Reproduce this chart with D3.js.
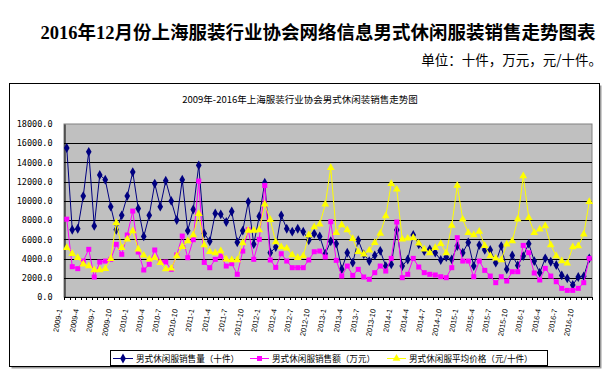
<!DOCTYPE html>
<html lang="zh">
	<head>
		<meta charset="utf-8">
		<title>男式休闲服装销售走势图</title>
		<script src="https://d3js.org/d3.v7.min.js"></script>
		<style type="text/css">
			body { margin: 0; background: #fff; }
		</style>
	</head>
	<body>
		<script type="text/javascript">

			var years = [2009, 2010, 2011, 2012, 2013, 2014, 2015, 2016];
			var months = [];
			years.forEach(function(y){
				for (var m = 1; m <= 12; m++) months.push(y + "-" + m);
			});

			// 男式休闲服销售量（十件）
			var qty = [15500, 7000, 7100, 10500, 15100, 7400, 12700, 12200, 9400, 7000, 8500, 10500,
				13000, 9200, 6300, 8500, 11800, 9400, 12100, 10000, 8000, 12200, 6900, 9100,
				13700, 6600, 5800, 8700, 8600, 7800, 8900, 5700, 6900, 9900, 5500, 8400,
				11900, 4600, 5200, 8500, 7100, 6800, 7100, 6800, 5900, 6600, 6300, 4500,
				5800, 5550, 2900, 4600, 3570, 5900, 4440, 3740, 4330, 4800, 3220, 3400,
				6970, 3220, 3900, 6450, 5480, 4780, 4960, 4610, 3850, 4160, 3920, 5300,
				4610, 5680, 3220, 5400, 4900, 4900, 3570, 5300, 2880, 4330, 3290, 4260,
				5550, 3740, 2530, 4020, 3670, 3330, 2250, 1940, 1250, 2080, 2150, 4020];

			// 男式休闲服销售额（万元）
			var amount = [8100, 3150, 2950, 3740, 4960, 2080, 3640, 3740, 3920, 5480, 4440, 6450,
				8940, 4680, 2810, 3400, 4890, 3640, 3650, 2880, 4370, 6340, 4090, 5960,
				12060, 3600, 3050, 3920, 4260, 3220, 3470, 2360, 4780, 7000, 3920, 6000,
				11600, 3850, 3080, 4500, 3740, 3050, 3050, 3050, 3850, 4710, 4780, 4160,
				7830, 3810, 2180, 3220, 2250, 2880, 2080, 1840, 2530, 3220, 2700, 4020,
				7800, 2010, 2360, 4020, 3120, 2530, 2360, 2290, 2110, 2010, 3050, 6170,
				3740, 3740, 2110, 3740, 2770, 2180, 1490, 2110, 1660, 2630, 2630, 5370,
				4610, 2500, 1770, 2980, 2180, 1590, 900, 690, 690, 900, 1490, 4020];

			// 男式休闲服平均价格（元/十件）
			var price = [5130, 4500, 4090, 3400, 3220, 2810, 2810, 2950, 3990, 7730, 5130, 6000,
				6860, 4960, 4330, 3920, 4090, 3570, 2900, 2980, 4260, 5230, 5820, 6450,
				8660, 5400, 4710, 4570, 4780, 3920, 3850, 3850, 5610, 6930, 6930, 6970,
				9640, 8040, 5730, 5200, 5060, 4370, 4090, 4260, 6450, 7280, 7560, 9640,
				13450, 6690, 7490, 6970, 6070, 4710, 4440, 4850, 5650, 6600, 8420, 11780,
				11200, 6000, 6100, 6170, 5580, 4960, 4570, 5130, 5550, 4570, 7450, 11610,
				8080, 6690, 6450, 6820, 5330, 4260, 4020, 3850, 5480, 5820, 8080, 12580,
				8250, 6690, 7040, 7380, 5410, 4260, 3740, 3500, 5200, 5300, 6520, 9910];

			var seriesNames = ["男式休闲服销售量（十件）", "男式休闲服销售额（万元）", "男式休闲服平均价格（元/十件）"];
			var yTicks = [0, 2000, 4000, 6000, 8000, 10000, 12000, 14000, 16000, 18000];

			var W = 611, H = 377;
			var plot = {left: 64, right: 592, top: 124, bottom: 297};

			var svg = d3.select("body")
				.append("svg")
				.attr("width", W)
				.attr("height", H);

			svg.append("rect").attr("width", W).attr("height", H).attr("fill", "#fff");

			// headings
			svg.append("text")
				.attr("x", 318).attr("y", 39)
				.attr("text-anchor", "middle")
				.attr("font-family", "'Liberation Serif', 'Noto Sans CJK SC', serif")
				.attr("font-weight", "bold")
				.attr("font-size", "18.5px")
				.attr("fill", "#000")
				.text("2016年12月份上海服装行业协会网络信息男式休闲服装销售走势图表");

			svg.append("text")
				.attr("x", 602).attr("y", 65)
				.attr("text-anchor", "end")
				.attr("font-family", "'Noto Sans CJK SC', sans-serif")
				.attr("font-size", "13.5px")
				.attr("fill", "#000")
				.text("单位：十件，万元，元/十件。");

			// chart frame (with a faint shadow)
			svg.append("rect")
				.attr("x", 11.5).attr("y", 85.5).attr("width", 590).attr("height", 283)
				.attr("fill", "#999");
			svg.append("rect")
				.attr("x", 9.5).attr("y", 83.5).attr("width", 590).attr("height", 283)
				.attr("fill", "#fff").attr("stroke", "#000");

			svg.append("text")
				.attr("x", 300).attr("y", 103)
				.attr("text-anchor", "middle")
				.attr("font-family", "'Noto Sans CJK SC', sans-serif")
				.attr("font-size", "9.5px")
				.attr("fill", "#000")
				.text("2009年-2016年上海服装行业协会男式休闲装销售走势图");

			var xscale = d3.scaleBand()
				.domain(d3.range(months.length))
				.range([plot.left, plot.right])
				.padding(0);
			var bw = xscale.bandwidth();
			var cx = function(i){ return xscale(i) + bw / 2; };

			var yscale = d3.scaleLinear()
				.domain([0, 18000])
				.range([plot.bottom, plot.top]);

			// plot area
			svg.append("rect")
				.attr("x", plot.left).attr("y", plot.top)
				.attr("width", plot.right - plot.left)
				.attr("height", plot.bottom - plot.top)
				.attr("fill", "#c0c0c0")
				.attr("stroke", "#808080");

			svg.append("g")
				.selectAll("line")
				.data(yTicks.slice(1, -1))
				.enter()
				.append("line")
				.attr("x1", plot.left).attr("x2", plot.right)
				.attr("y1", function(d){ return Math.round(yscale(d)) + 0.5; })
				.attr("y2", function(d){ return Math.round(yscale(d)) + 0.5; })
				.attr("stroke", "#000");

			// y axis
			var yAxis = svg.append("g")
				.attr("transform", "translate(" + (plot.left + 0.5) + ",0)")
				.call(d3.axisLeft(yscale).tickValues(yTicks).tickSize(0).tickPadding(12)
					.tickFormat(d3.format(".1f")));
			yAxis.select(".domain").attr("stroke", "#000");
			yAxis.selectAll("text")
				.attr("font-family", "'DejaVu Sans Mono', monospace")
				.attr("font-size", "8.5px")
				.attr("fill", "#000");

			// x axis: line, ticks at every category boundary
			svg.append("line")
				.attr("x1", plot.left).attr("x2", plot.right)
				.attr("y1", plot.bottom + 0.5).attr("y2", plot.bottom + 0.5)
				.attr("stroke", "#000");
			svg.append("g")
				.selectAll("line")
				.data(d3.range(months.length + 1))
				.enter()
				.append("line")
				.attr("x1", function(i){ return Math.round(plot.left + i * bw) + 0.5; })
				.attr("x2", function(i){ return Math.round(plot.left + i * bw) + 0.5; })
				.attr("y1", plot.bottom).attr("y2", plot.bottom + 3)
				.attr("stroke", "#000");

			svg.append("g")
				.selectAll("text")
				.data(months.filter(function(d, i){ return i % 3 === 0; }))
				.enter()
				.append("text")
				.attr("transform", function(d){
					var i = months.indexOf(d);
					return "translate(" + (cx(i) - 7) + "," + 309 + ") rotate(-80)";
				})
				.attr("text-anchor", "end")
				.attr("dy", "0.35em")
				.attr("font-family", "'Liberation Sans', sans-serif")
				.attr("font-size", "7.5px")
				.attr("fill", "#000")
				.text(function(d){ return d; });

			// series
			var series = [
				{name: seriesNames[0], values: qty, color: "#000080", shape: d3.symbolDiamond, size: 28},
				{name: seriesNames[1], values: amount, color: "#ff00ff", shape: d3.symbolSquare, size: 25},
				{name: seriesNames[2], values: price, color: "#ffff00", shape: d3.symbolTriangle, size: 26}
			];

			var line = d3.line()
				.x(function(d, i){ return cx(i); })
				.y(function(d){ return yscale(d); });

			series.forEach(function(s){
				var g = svg.append("g");
				g.append("path")
					.attr("d", line(s.values))
					.attr("fill", "none")
					.attr("stroke", s.color)
					.attr("stroke-width", 1);
				g.selectAll("path.m")
					.data(s.values)
					.enter()
					.append("path")
					.attr("class", "m")
					.attr("transform", function(d, i){ return "translate(" + cx(i) + "," + yscale(d) + ")"; })
					.attr("d", d3.symbol().type(s.shape).size(s.size))
					.attr("fill", s.color);
			});

			// legend
			var legend = svg.append("g");
			legend.append("rect")
				.attr("x", 110.5).attr("y", 350.5).attr("width", 437).attr("height", 15)
				.attr("fill", "#fff").attr("stroke", "#000");
			var legX = [[113, 133, 136], [250, 269, 272], [387, 406, 409]];
			series.forEach(function(s, k){
				var lx = legX[k];
				legend.append("line")
					.attr("x1", lx[0]).attr("x2", lx[1])
					.attr("y1", 358.5).attr("y2", 358.5)
					.attr("stroke", s.color);
				legend.append("path")
					.attr("transform", "translate(" + ((lx[0] + lx[1]) / 2) + ",358.5)")
					.attr("d", d3.symbol().type(s.shape).size(s.size))
					.attr("fill", s.color);
				legend.append("text")
					.attr("x", lx[2]).attr("y", 358.5)
					.attr("dy", "0.35em")
					.attr("font-family", "'Noto Sans CJK SC', sans-serif")
					.attr("font-size", "8.6px")
					.attr("fill", "#000")
					.text(s.name);
			});
		</script>
	</body>
</html>
